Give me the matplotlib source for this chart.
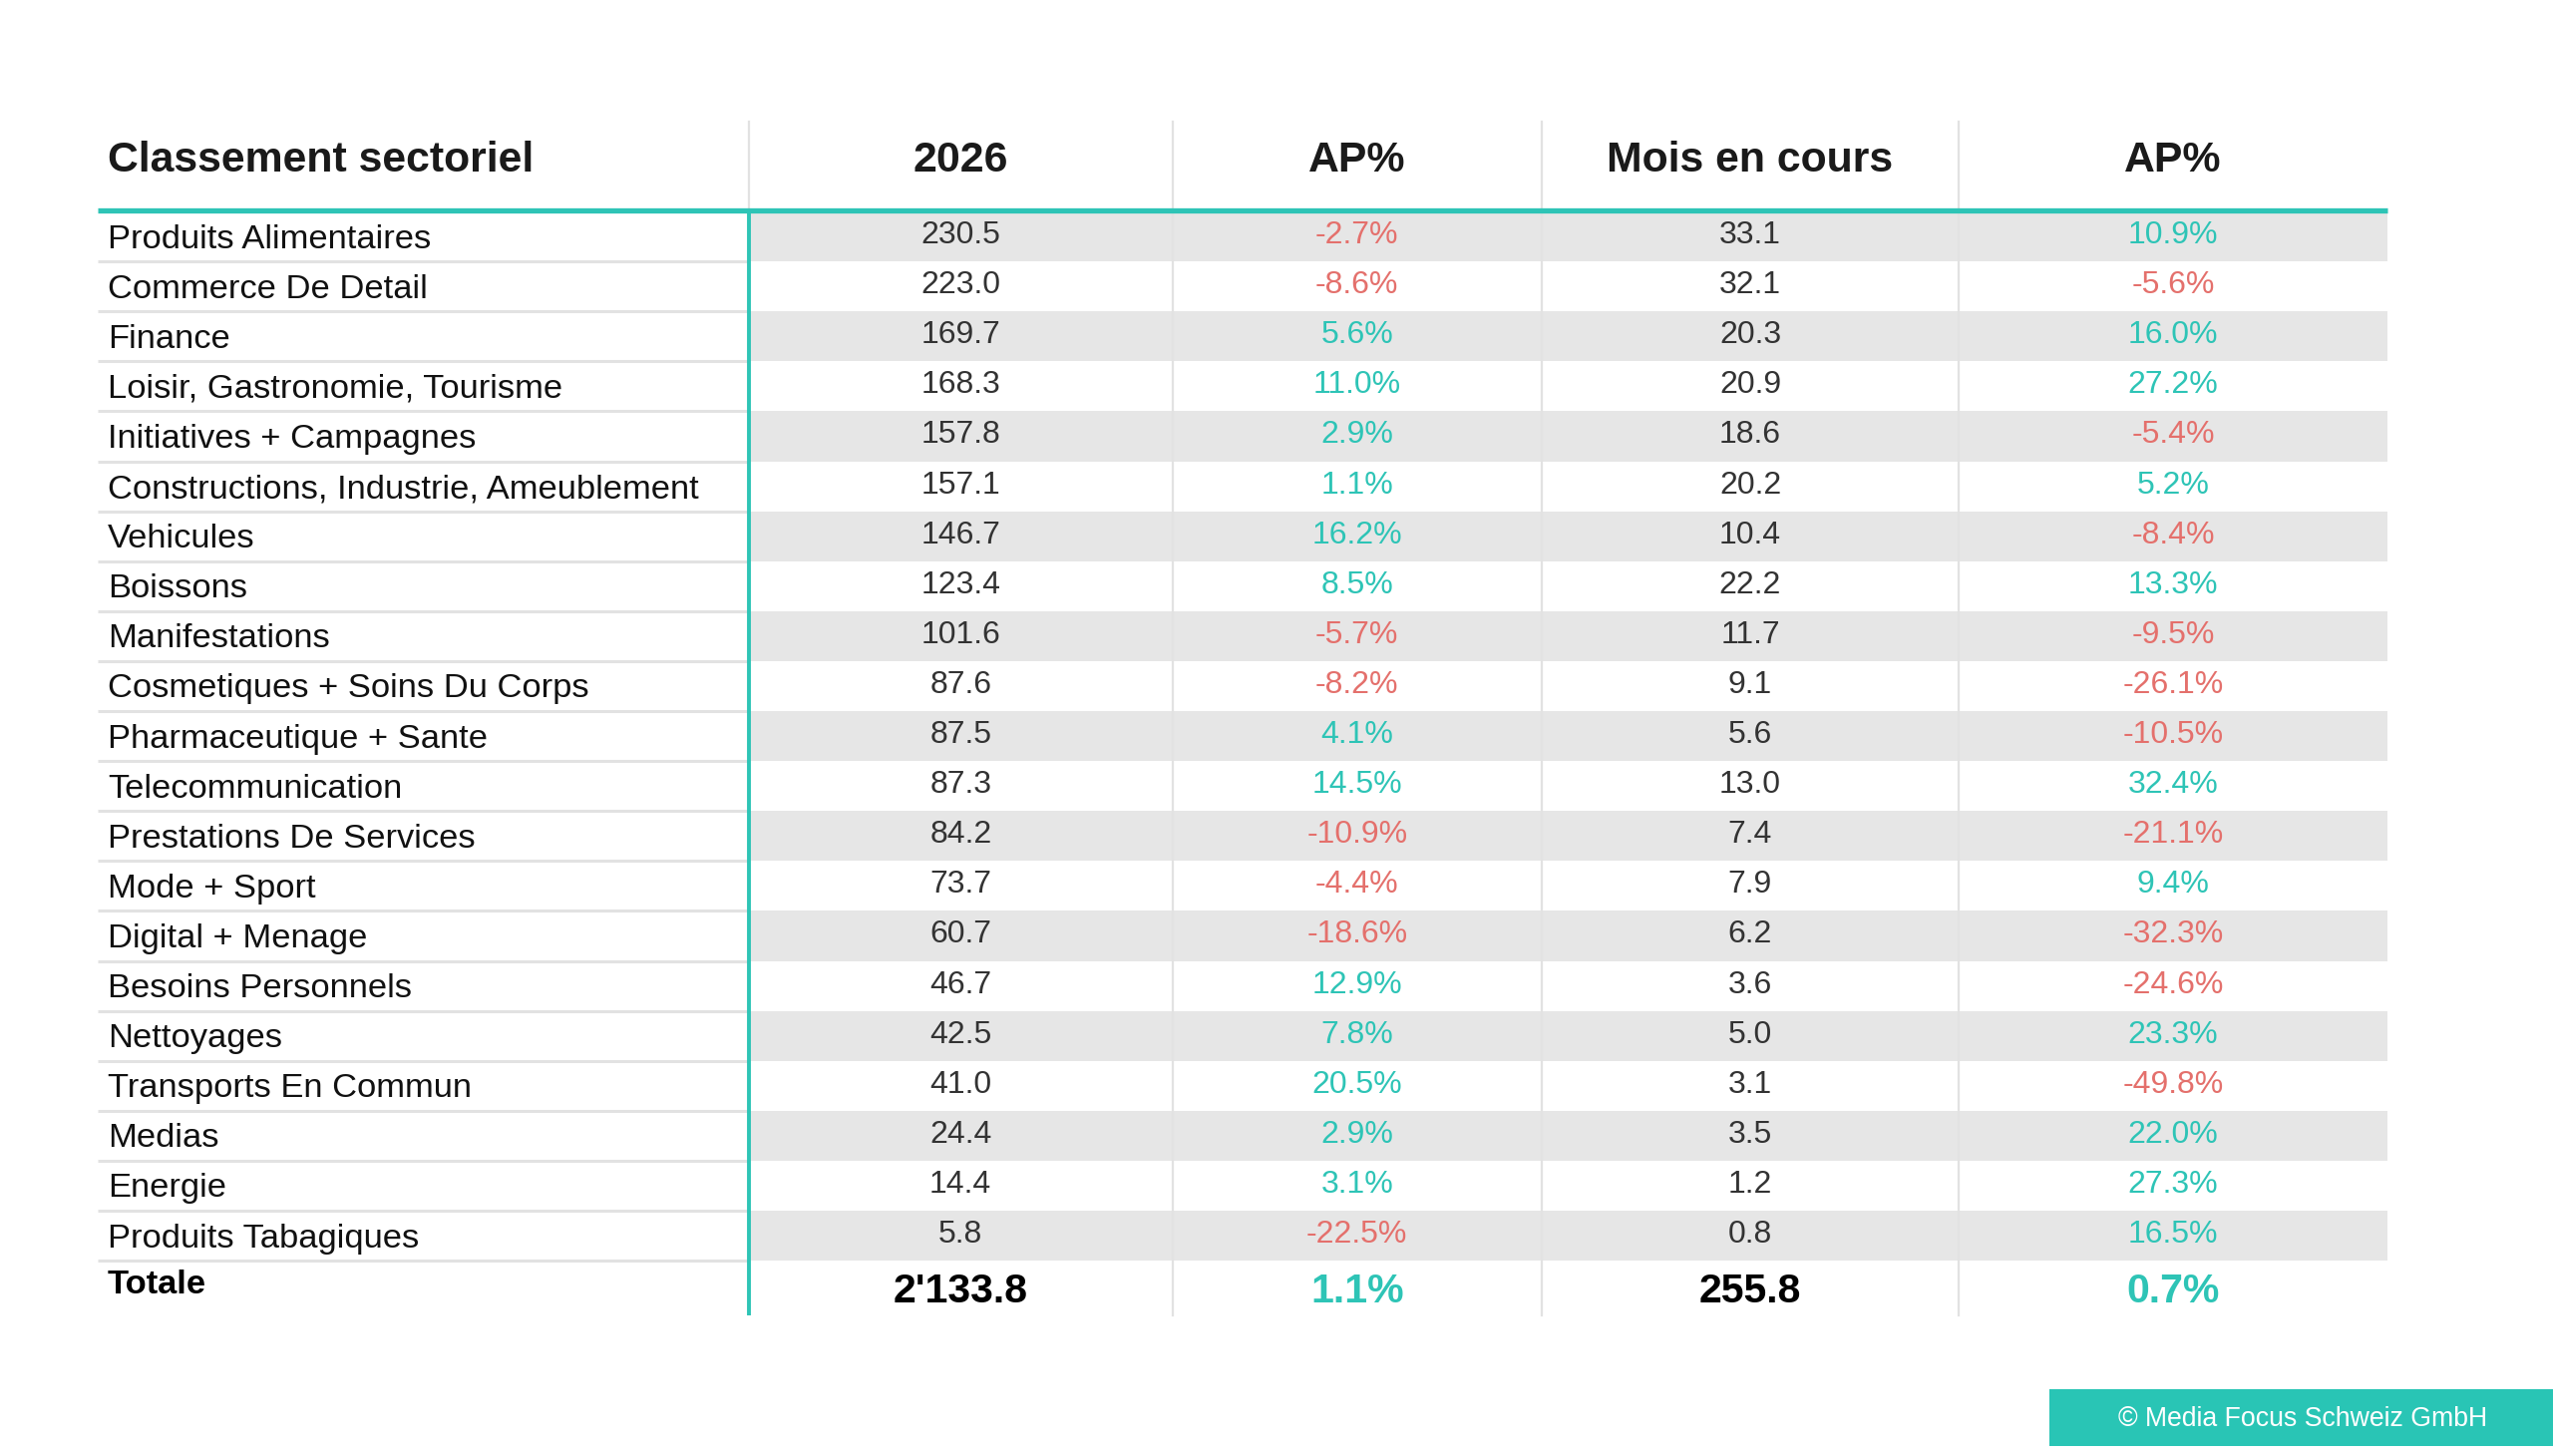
import matplotlib
matplotlib.use("Agg")
import matplotlib.pyplot as plt
from matplotlib.patches import Rectangle

# ---------------- data ----------------
headers = ["Classement sectoriel", "2026", "AP%", "Mois en cours", "AP%"]
sectors = [
    "Produits Alimentaires", "Commerce De Detail", "Finance",
    "Loisir, Gastronomie, Tourisme", "Initiatives + Campagnes",
    "Constructions, Industrie, Ameublement", "Vehicules", "Boissons",
    "Manifestations", "Cosmetiques + Soins Du Corps", "Pharmaceutique + Sante",
    "Telecommunication", "Prestations De Services", "Mode + Sport",
    "Digital + Menage", "Besoins Personnels", "Nettoyages",
    "Transports En Commun", "Medias", "Energie", "Produits Tabagiques",
]
year_values = [230.5, 223.0, 169.7, 168.3, 157.8, 157.1, 146.7, 123.4, 101.6,
               87.6, 87.5, 87.3, 84.2, 73.7, 60.7, 46.7, 42.5, 41.0, 24.4,
               14.4, 5.8]
year_ap = [-2.7, -8.6, 5.6, 11.0, 2.9, 1.1, 16.2, 8.5, -5.7, -8.2, 4.1, 14.5,
           -10.9, -4.4, -18.6, 12.9, 7.8, 20.5, 2.9, 3.1, -22.5]
month_values = [33.1, 32.1, 20.3, 20.9, 18.6, 20.2, 10.4, 22.2, 11.7, 9.1,
                5.6, 13.0, 7.4, 7.9, 6.2, 3.6, 5.0, 3.1, 3.5, 1.2, 0.8]
month_ap = [10.9, -5.6, 16.0, 27.2, -5.4, 5.2, -8.4, 13.3, -9.5, -26.1,
            -10.5, 32.4, -21.1, 9.4, -32.3, -24.6, 23.3, -49.8, 22.0, 27.3,
            16.5]
total_label = "Totale"
total_year = "2'133.8"
total_year_ap = 1.1
total_month = "255.8"
total_month_ap = 0.7
footer = "\u00a9 Media Focus Schweiz GmbH"

# ---------------- style ----------------
TEAL = "#2ec4b6"
RED = "#e4706c"
SHADE = "#e6e6e6"
GRID = "#e2e2e2"
FONT = ["Liberation Sans", "Arimo", "DejaVu Sans"]

W, H = 2560, 1460
fig = plt.figure(figsize=(W / 100, H / 100), dpi=100)
ax = fig.add_axes([0, 0, 1, 1])
ax.set_xlim(0, W)
ax.set_ylim(H, 0)
ax.axis("off")

x_left, x_right = 98, 2394
col_edges = [x_left, 751, 1175.5, 1546, 1964, x_right]
header_top, header_bottom = 122, 211
row_top = 212
row_h = 50.1
n = len(sectors)
total_top = row_top + n * row_h
total_bottom = 1319

def pct_color(v):
    return TEAL if v >= 0 else RED

# shading of alternate data rows
for i in range(n):
    y0 = row_top + i * row_h
    if i % 2 == 0:
        ax.add_patch(Rectangle((col_edges[1], y0), x_right - col_edges[1], row_h,
                               facecolor=SHADE, edgecolor="none", zorder=1))
    # separator in label column
    ax.plot([x_left, col_edges[1]], [y0 + row_h, y0 + row_h], color=GRID,
            lw=2.2, zorder=2, solid_capstyle="butt")

# vertical light dividers
for xe in col_edges[2:5]:
    ax.plot([xe, xe], [header_top, total_bottom], color=GRID, lw=1.6, zorder=2)
ax.plot([col_edges[1], col_edges[1]], [header_top, header_bottom], color=GRID,
        lw=1.6, zorder=2)
# teal vertical divider
ax.plot([col_edges[1], col_edges[1]], [header_bottom, total_bottom], color=TEAL,
        lw=2.8, zorder=3, solid_capstyle="butt")
# teal header line
ax.plot([x_left, x_right], [header_bottom, header_bottom], color=TEAL, lw=3.8,
        zorder=4, solid_capstyle="butt")

# headers
hy = (header_top + header_bottom) / 2 - 5
ax.text(108, hy, headers[0], ha="left", va="center", fontsize=30.8,
        fontweight="bold", family=FONT, color="#1a1a1a", zorder=5)
centers = [(col_edges[k] + col_edges[k + 1]) / 2 for k in range(1, 5)]
for k, h in enumerate(headers[1:]):
    ax.text(centers[k], hy, h, ha="center", va="center", fontsize=30.8,
            fontweight="bold", family=FONT, color="#1a1a1a", zorder=5)

# rows
for i in range(n):
    yc = row_top + i * row_h + row_h / 2
    ax.text(108, yc + 3, sectors[i], ha="left", va="center", fontsize=24.8,
            family=FONT, color="#111111", zorder=5)
    ax.text(centers[0], yc - 1, f"{year_values[i]:.1f}", ha="center",
            va="center", fontsize=23, family=FONT, color="#333333", zorder=5)
    ax.text(centers[1], yc - 1, f"{year_ap[i]:.1f}%", ha="center", va="center",
            fontsize=23, family=FONT, color=pct_color(year_ap[i]), zorder=5)
    ax.text(centers[2], yc - 1, f"{month_values[i]:.1f}", ha="center",
            va="center", fontsize=23, family=FONT, color="#333333", zorder=5)
    ax.text(centers[3], yc - 1, f"{month_ap[i]:.1f}%", ha="center", va="center",
            fontsize=23, family=FONT, color=pct_color(month_ap[i]), zorder=5)

# total row
ty = (total_top + total_bottom) / 2
ax.text(108, ty - 3, total_label, ha="left", va="center", fontsize=24.8,
        fontweight="bold", family=FONT, color="#000000", zorder=5)
ax.text(centers[0], ty + 3, total_year, ha="center", va="center", fontsize=29.5,
        fontweight="bold", family=FONT, color="#000000", zorder=5)
ax.text(centers[1], ty + 3, f"{total_year_ap:.1f}%", ha="center", va="center",
        fontsize=29.5, fontweight="bold", family=FONT,
        color=pct_color(total_year_ap), zorder=5)
ax.text(centers[2], ty + 3, total_month, ha="center", va="center",
        fontsize=29.5, fontweight="bold", family=FONT, color="#000000", zorder=5)
ax.text(centers[3], ty + 3, f"{total_month_ap:.1f}%", ha="center", va="center",
        fontsize=29.5, fontweight="bold", family=FONT,
        color=pct_color(total_month_ap), zorder=5)

# footer box
ax.add_patch(Rectangle((2055, 1393), W - 2055, 57, facecolor="#29c5b5",
                       edgecolor="none", zorder=1))
ax.text((2055 + W) / 2 + 2, 1423, footer, ha="center", va="center",
        fontsize=19.2, family=FONT, color="white", zorder=5)

fig.savefig("out.png", dpi=100, facecolor="white")
